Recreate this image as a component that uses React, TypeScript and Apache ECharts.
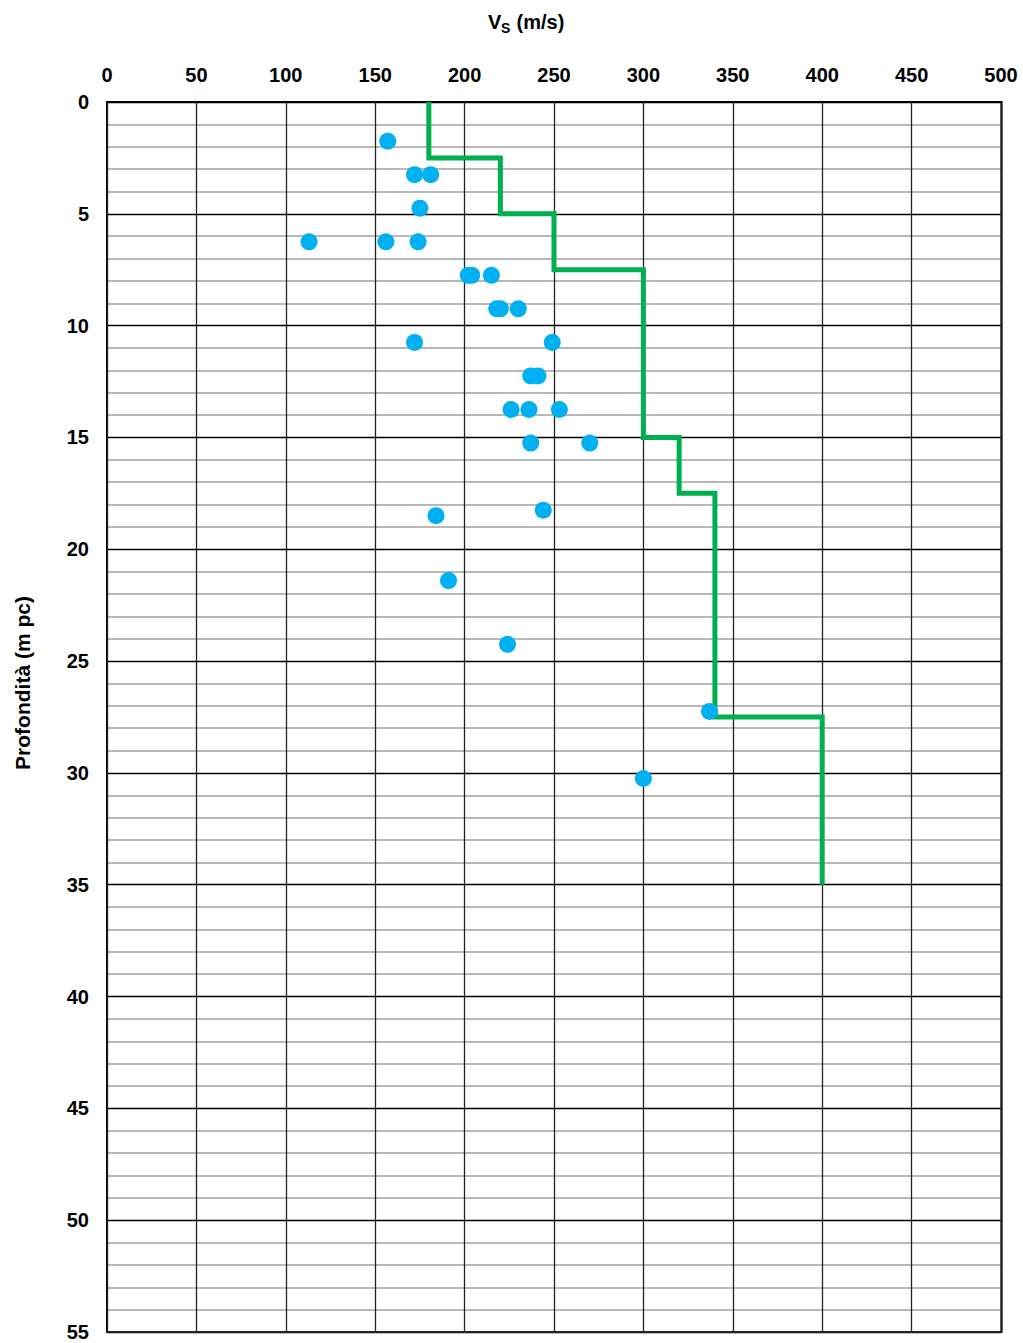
import React, { useEffect, useRef } from "react";
import * as echarts from "echarts";

// Measured points: shear-wave velocity (m/s) vs depth (m)
const pointVs = [157, 172, 181, 175, 113, 156, 174, 202, 204, 215, 218, 220, 230, 172, 249, 237, 241, 226, 236, 253, 237, 270, 184, 244, 191, 224, 337, 300];
const pointDepth = [1.75, 3.25, 3.25, 4.75, 6.25, 6.25, 6.25, 7.75, 7.75, 7.75, 9.25, 9.25, 9.25, 10.75, 10.75, 12.25, 12.25, 13.75, 13.75, 13.75, 15.25, 15.25, 18.5, 18.25, 21.4, 24.25, 27.25, 30.25];

// Layered model (step profile)
const layerTop = [0, 2.5, 5, 7.5, 15, 17.5, 27.5];
const layerBottom = [2.5, 5, 7.5, 15, 17.5, 27.5, 35];
const layerVs = [180, 220, 250, 300, 320, 340, 400];

// Axis ticks
const xMin = 0, xMax = 500, xStep = 50;
const yMin = 0, yMax = 55, yStep = 5;

const FONT = "'Liberation Sans', Arial, sans-serif";

export default function App() {
  const ref = useRef<HTMLDivElement>(null);
  useEffect(() => {
    if (!ref.current) return;
    const chart = echarts.init(ref.current, undefined, { renderer: "svg" });
    const scatterData = pointVs.map((v, i) => [v, pointDepth[i]]);
    const stepData: number[][] = [];
    layerVs.forEach((v, i) => {
      stepData.push([v, layerTop[i]]);
      stepData.push([v, layerBottom[i]]);
    });
    const labelStyle = { color: "#000", fontSize: 20, fontWeight: "bold", fontFamily: FONT };
    const titleStyle = { fontSize: 20, fontWeight: "bold", fontFamily: FONT, fill: "#000" };
    chart.setOption({
      animation: false,
      backgroundColor: "#ffffff",
      grid: { left: 107, top: 102, width: 894, height: 1230, containLabel: false },
      xAxis: [
        {
          type: "value",
          position: "top",
          min: xMin,
          max: xMax,
          interval: xStep,
          axisLine: { show: true, onZero: false, lineStyle: { color: "#000", width: 2 } },
          axisTick: { show: false },
          axisLabel: { ...labelStyle, margin: 17 },
          splitLine: { show: true, lineStyle: { color: "#222", width: 1.3 } },
          z: 3,
        },
        {
          type: "value",
          position: "bottom",
          min: xMin,
          max: xMax,
          interval: xStep,
          axisLine: { show: true, onZero: false, lineStyle: { color: "#222", width: 2 } },
          axisTick: { show: false },
          axisLabel: { show: false },
          splitLine: { show: false },
        },
      ],
      yAxis: [
        {
          type: "value",
          inverse: true,
          min: yMin,
          max: yMax,
          interval: yStep,
          axisLine: { show: true, onZero: false, lineStyle: { color: "#000", width: 2 } },
          axisTick: { show: false },
          axisLabel: { ...labelStyle, margin: 18 },
          splitLine: { show: true, lineStyle: { color: "#000", width: 1.3 } },
          minorTick: { show: false, splitNumber: 5 },
          minorSplitLine: { show: true, lineStyle: { color: "#b8b8b8", width: 2 } },
        },
        {
          type: "value",
          position: "right",
          inverse: true,
          min: yMin,
          max: yMax,
          interval: yStep,
          axisLine: { show: true, onZero: false, lineStyle: { color: "#333", width: 2.5 } },
          axisTick: { show: false },
          axisLabel: { show: false },
          splitLine: { show: false },
        },
      ],
      graphic: [
        {
          type: "group",
          children: [
            { type: "text", x: 488, y: 22, style: { ...titleStyle, text: "V", textVerticalAlign: "middle" } },
            { type: "text", x: 501, y: 28, style: { ...titleStyle, fontSize: 14, text: "S", textVerticalAlign: "middle" } },
            { type: "text", x: 511, y: 22, style: { ...titleStyle, text: " (m/s)", textVerticalAlign: "middle" } },
          ],
        },
        {
          type: "text",
          x: 22,
          y: 683,
          rotation: Math.PI / 2,
          style: {
            ...titleStyle,
            fontSize: 21,
            text: "Profondità (m pc)",
            textAlign: "center",
            textVerticalAlign: "middle",
          },
        },
      ],
      series: [
        {
          type: "line",
          data: stepData,
          showSymbol: false,
          symbol: "none",
          lineStyle: { color: "#00b050", width: 5, join: "miter" },
          z: 4,
        },
        {
          type: "scatter",
          data: scatterData,
          symbol: "circle",
          symbolSize: 17,
          itemStyle: { color: "#00b0f0", opacity: 1 },
          z: 5,
        },
      ],
    });
    return () => chart.dispose();
  }, []);
  return (
    <div
      ref={ref}
      style={{ position: "fixed", left: 0, top: 0, width: 1023, height: 1343, background: "#fff" }}
    />
  );
}
